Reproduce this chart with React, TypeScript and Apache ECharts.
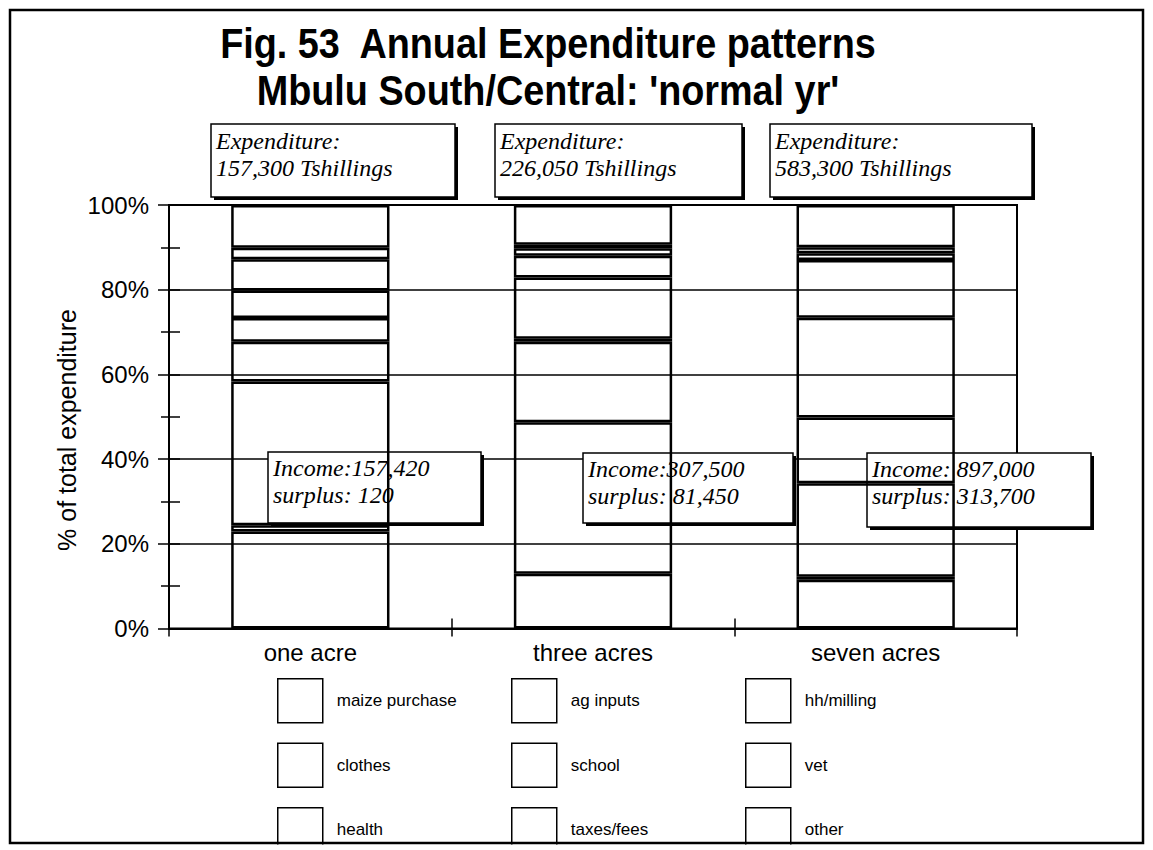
import React, { useEffect, useRef } from "react";
import * as echarts from "echarts";

const categories = ["one acre", "three acres", "seven acres"];
const seriesNames = [
  "maize purchase",
  "ag inputs",
  "hh/milling",
  "clothes",
  "school",
  "vet",
  "health",
  "taxes/fees",
  "other",
];
// % of total expenditure, per category (one, three, seven acres)
const maizePurchase = [22.9, 12.9, 11.5];
const agInputs = [1.5, 35.8, 0.7];
const hhMilling = [33.9, 19.0, 22.1];
const clothes = [9.4, 0.7, 15.5];
const school = [5.6, 14.5, 23.6];
const vet = [6.5, 5.1, 13.6];
const health = [7.4, 1.8, 1.6];
const taxesFees = [2.7, 0.8, 1.4];
const other = [10.1, 9.4, 10.0];
const seriesValues = [maizePurchase, agInputs, hhMilling, clothes, school, vet, health, taxesFees, other];

const yTicks = [0, 20, 40, 60, 80, 100];

const expenditure = ["157,300", "226,050", "583,300"];
const income = ["157,420", "307,500", " 897,000"];
const surplus = ["120", "81,450", "313,700"];

const SANS = '"Liberation Sans", Arial, sans-serif';
const SERIF = '"Liberation Serif", "Times New Roman", serif';

function boxWithShadow(x: number, y: number, w: number, h: number, text: string, z: number, textDy: number) {
  return [
    { type: "rect", z, shape: { x: x + 3, y: y + 3, width: w, height: h }, style: { fill: "#000" } },
    { type: "rect", z: z + 0.1, shape: { x, y, width: w, height: h }, style: { fill: "#fff", stroke: "#000", lineWidth: 1.5 } },
    {
      type: "text",
      z: z + 0.2,
      x: x + 5,
      y: y + textDy,
      style: { text, font: `italic 24px ${SERIF}`, fill: "#000", lineHeight: 27, verticalAlign: "top", align: "left" },
    },
  ];
}

export default function App() {
  const ref = useRef<HTMLDivElement>(null);
  useEffect(() => {
    if (!ref.current) return;
    const chart = echarts.init(ref.current, undefined, { renderer: "svg" });

    const legendCommon = {
      orient: "vertical",
      top: 678,
      height: 200,
      itemWidth: 45,
      itemHeight: 44,
      itemGap: 19,
      padding: 0,
      icon: "rect",
      selectedMode: false,
      itemStyle: { color: "#fff", borderColor: "#000", borderWidth: 1.5 },
      textStyle: { fontSize: 17, fontFamily: SANS, color: "#000", padding: [0, 0, 0, 9] },
    };

    const expBoxes = [
      [211, 124, 244, 73],
      [495, 124, 247, 73],
      [770, 124, 262, 73],
    ];
    const incBoxes = [
      [268, 452, 213, 71],
      [583, 453, 210, 70],
      [867, 453, 224, 74],
    ];

    const graphics: any[] = [
      { type: "rect", z: 20, shape: { x: 0, y: 844.5, width: 1153, height: 6 }, style: { fill: "#fff" } },
      { type: "rect", z: 21, shape: { x: 10, y: 10, width: 1133, height: 833 }, style: { fill: "none", stroke: "#000", lineWidth: 2.5 } },
      {
        type: "text", z: 10, x: 548, y: 43, scaleX: 0.9,
        style: { text: "Fig. 53  Annual Expenditure patterns", font: `bold 42px ${SANS}`, fill: "#000", align: "center", verticalAlign: "middle" },
      },
      {
        type: "text", z: 10, x: 548, y: 90, scaleX: 0.9,
        style: { text: "Mbulu South/Central: 'normal yr'", font: `bold 42px ${SANS}`, fill: "#000", align: "center", verticalAlign: "middle" },
      },
      {
        type: "text", z: 10, x: 67, y: 430, rotation: Math.PI / 2,
        style: { text: "% of total expenditure", font: `25px ${SANS}`, fill: "#000", align: "center", verticalAlign: "middle" },
      },
    ];
    expBoxes.forEach((b, i) => {
      graphics.push(...boxWithShadow(b[0], b[1], b[2], b[3], `Expenditure:\n${expenditure[i]} Tshillings`, 5, 3));
    });
    incBoxes.forEach((b, i) => {
      graphics.push(...boxWithShadow(b[0], b[1], b[2], b[3], `Income:${income[i]}\nsurplus: ${surplus[i]}`, 1, 2));
    });

    chart.setOption({
      animation: false,
      backgroundColor: "#fff",
      grid: { left: 169, top: 205, width: 848, height: 423.5, show: true, borderColor: "#000", borderWidth: 2, backgroundColor: "transparent" },
      xAxis: [
        {
          type: "category",
          data: categories,
          position: "bottom",
          axisLine: { show: true, lineStyle: { color: "#000", width: 2 } },
          axisTick: { show: true, length: 8, lineStyle: { color: "#000", width: 1.5 } },
          axisLabel: { fontSize: 24, fontFamily: SANS, color: "#000", margin: 12 },
          splitLine: { show: false },
        },
        {
          type: "category",
          data: categories,
          position: "bottom",
          axisLine: { show: false },
          axisTick: { show: true, inside: true, length: 10, lineStyle: { color: "#000", width: 1.5 } },
          axisLabel: { show: false },
          splitLine: { show: false },
        },
      ],
      yAxis: [
        {
          type: "value",
          min: yTicks[0],
          max: yTicks[yTicks.length - 1],
          interval: 20,
          position: "left",
          axisLine: { show: true, lineStyle: { color: "#000", width: 2 } },
          axisTick: { show: true, length: 11, lineStyle: { color: "#000", width: 1.5 } },
          minorTick: { show: true, splitNumber: 2, length: 8, lineStyle: { color: "#000", width: 1.5 } },
          axisLabel: { formatter: "{value}%", fontSize: 24, fontFamily: SANS, color: "#000", margin: 20 },
          splitLine: { show: true, lineStyle: { color: "#000", width: 1.5 } },
        },
        {
          type: "value",
          min: yTicks[0],
          max: yTicks[yTicks.length - 1],
          interval: 20,
          position: "left",
          axisLine: { show: false },
          axisTick: { show: true, inside: true, length: 11, lineStyle: { color: "#000", width: 1.5 } },
          minorTick: { show: true, splitNumber: 2, length: 11, lineStyle: { color: "#000", width: 1.5 } },
          axisLabel: { show: false },
          splitLine: { show: false },
        },
      ],
      legend: [
        { ...legendCommon, left: 277, data: [seriesNames[0], seriesNames[3], seriesNames[6]] },
        { ...legendCommon, left: 511, data: [seriesNames[1], seriesNames[4], seriesNames[7]] },
        { ...legendCommon, left: 745, data: [seriesNames[2], seriesNames[5], seriesNames[8]] },
      ],
      series: seriesNames.map((name, i) => ({
        name,
        type: "bar",
        stack: "total",
        xAxisIndex: 0,
        yAxisIndex: 0,
        barWidth: "56%",
        data: seriesValues[i],
        itemStyle: { color: "rgba(0,0,0,0)", borderColor: "#000", borderWidth: 2.5 },
        emphasis: { disabled: true },
      })),
      graphic: graphics,
    });
    return () => chart.dispose();
  }, []);
  return <div ref={ref} style={{ position: "fixed", left: 0, top: 0, width: 1153, height: 850 }} />;
}
